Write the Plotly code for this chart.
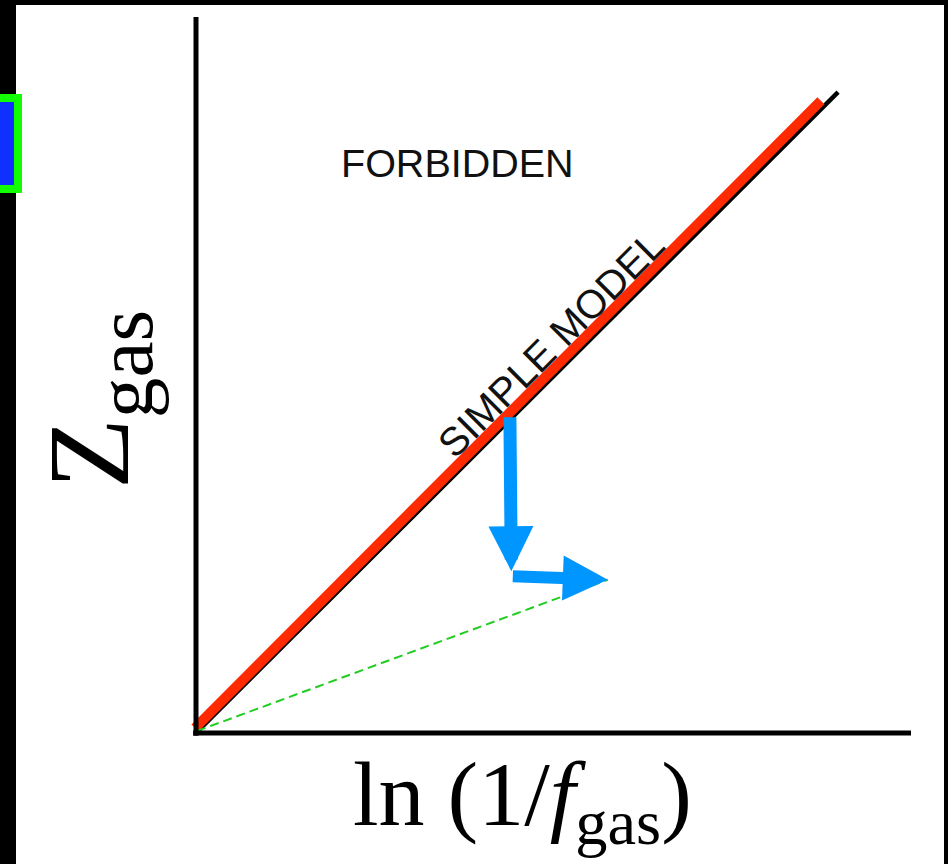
import plotly.graph_objects as go

# ---------------- data (x: ln(1/f_gas), y: Z_gas, arbitrary units) ----------------
model_x = [-0.014, 8.74]      # simple (closed-box) model, red
model_y = [0.07, 8.83]
shadow_x = [0.0, 8.98]        # black shadow under the model line
shadow_y = [0.0, 8.95]
path_x = [0.014, 5.76]        # dashed green line from origin to final state
path_y = [0.028, 2.14]
arrow_tail_x = [4.39, 4.41]   # blue arrows: outflow (down), then gas removal (right)
arrow_tail_y = [4.43, 2.19]
arrow_tip_x = [4.41, 5.76]
arrow_tip_y = [2.26, 2.14]
arrow_widths = [13, 12]

label_forbidden = "FORBIDDEN"
label_model = "SIMPLE MODEL"
x_title = "ln (1/<i>f</i><sub>gas</sub>)"
y_title = "Z<sub>gas</sub>"

# ---------------- styling / layout constants ----------------
W, H = 948, 864
X0PX, X10PX = 196.0, 911.0     # pixel columns of x=0 and x=10
Y0PX, Y10PX = 733.0, 17.0      # pixel rows of y=0 and y=10
sx = (X10PX - X0PX) / 10.0
sy = (Y0PX - Y10PX) / 10.0
xr = [-X0PX / sx, (W - X0PX) / sx]
yr = [-(H - Y0PX) / sy, Y0PX / sy]

RED = "#ff2a00"
BLUE = "#0096ff"
GREEN = "#22cc22"

def px(x):
    return x / W

def py(y):
    return 1 - y / H

fig = go.Figure()

fig.add_trace(go.Scatter(x=shadow_x, y=shadow_y, mode="lines",
                         line=dict(color="black", width=4.5), hoverinfo="skip"))
fig.add_trace(go.Scatter(x=model_x, y=model_y, mode="lines",
                         line=dict(color=RED, width=10), hoverinfo="skip"))
fig.add_trace(go.Scatter(x=path_x, y=path_y, mode="lines",
                         line=dict(color=GREEN, width=2, dash="9px,5px"), hoverinfo="skip"))

annotations = []
for tx, ty, hx, hy, w in zip(arrow_tail_x, arrow_tail_y, arrow_tip_x, arrow_tip_y, arrow_widths):
    annotations.append(dict(x=hx, y=hy, ax=tx, ay=ty, xref="x", yref="y", axref="x", ayref="y",
                            text="", showarrow=True, arrowhead=2, arrowwidth=w,
                            arrowsize=9.0 / w, arrowcolor=BLUE, standoff=0, startstandoff=0))

annotations.append(dict(x=(457 - X0PX) / sx, y=(Y0PX - 163) / sy, xref="x", yref="y",
                        text=label_forbidden, showarrow=False,
                        font=dict(family="Liberation Sans", size=39.5, color="#111111")))
annotations.append(dict(x=(551 - X0PX) / sx, y=(Y0PX - 344) / sy, xref="x", yref="y",
                        text=label_model, showarrow=False, textangle=-45,
                        font=dict(family="Liberation Sans", size=40, color="#111111")))

annotations.append(dict(x=px(522), y=py(800), xref="paper", yref="paper",
                        text=x_title, showarrow=False, xanchor="center", yanchor="middle",
                        font=dict(family="Liberation Serif", size=92, color="black")))
annotations.append(dict(x=px(97), y=py(400), xref="paper", yref="paper",
                        text=y_title, showarrow=False, textangle=-90,
                        xanchor="center", yanchor="middle",
                        font=dict(family="Liberation Serif", size=116, color="black")))

shapes = [
    # axes
    dict(type="line", xref="x", yref="y", x0=-0.04, y0=0, x1=10, y1=0,
         line=dict(color="black", width=5)),
    dict(type="line", xref="x", yref="y", x0=0, y0=-0.04, x1=0, y1=10,
         line=dict(color="black", width=5)),
    # black frame strips
    dict(type="rect", xref="paper", yref="paper", x0=0, x1=1, y0=py(5), y1=1,
         line=dict(width=0), fillcolor="black"),
    dict(type="rect", xref="paper", yref="paper", x0=0, x1=px(16), y0=0, y1=1,
         line=dict(width=0), fillcolor="black"),
    dict(type="rect", xref="paper", yref="paper", x0=px(944), x1=1, y0=0, y1=1,
         line=dict(width=0), fillcolor="black"),
    # blue box with green border at left edge
    dict(type="rect", xref="paper", yref="paper", x0=px(-10), x1=px(18),
         y0=py(189), y1=py(98), line=dict(color="#11ff00", width=8), fillcolor="#1030ff"),
]

fig.update_layout(
    width=W, height=H, autosize=False,
    margin=dict(l=0, r=0, t=0, b=0, pad=0),
    paper_bgcolor="white", plot_bgcolor="white",
    showlegend=False,
    xaxis=dict(range=xr, visible=False, fixedrange=True),
    yaxis=dict(range=yr, visible=False, fixedrange=True),
    annotations=annotations,
    shapes=shapes,
)

fig.write_html("out.html", config={"displayModeBar": False})
